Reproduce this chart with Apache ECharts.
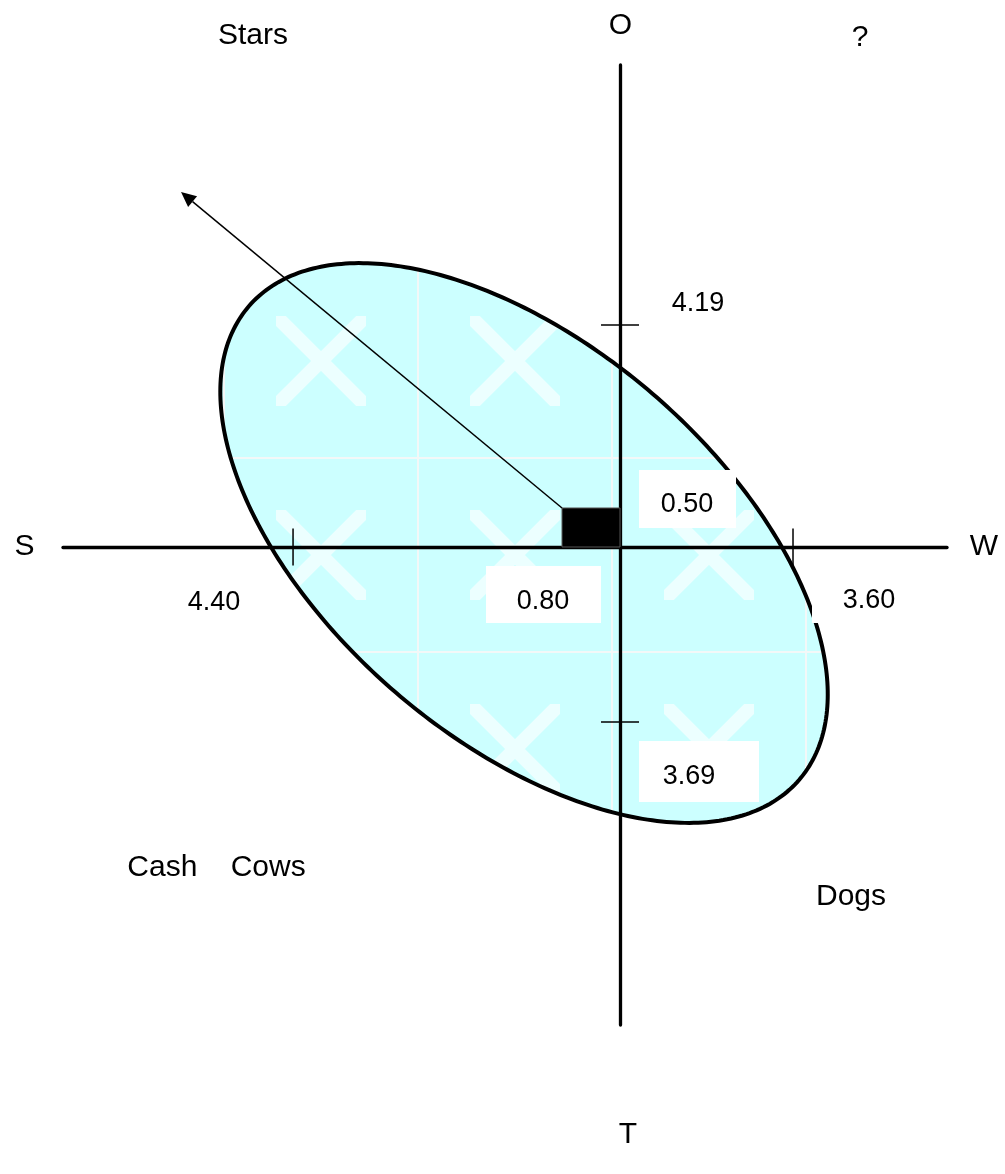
<!DOCTYPE html>
<html>
<head>
<meta charset="utf-8">
<script src="https://cdn.jsdelivr.net/npm/echarts@6/dist/echarts.min.js"></script>
<style>
html,body{margin:0;padding:0;background:#fff;}
#chart{width:1005px;height:1174px;}
</style>
</head>
<body>
<div id="chart"></div>
<script>
// ---------------- data ----------------
const factorNames = ['S', 'W', 'O', 'T'];
const factorScores = [4.40, 3.60, 4.19, 3.69];
// where each factor's tick mark sits along its half-axis (diagram units, schematic, not to scale)
const factorTickAt = [-4.51, 2.386, 2.846, -2.244];
const quadrantNames = ['Stars', '?', 'Cash    Cows', 'Dogs'];
// net strategic position: x = W - S, y = O - T
const netX = factorScores[1] - factorScores[0];
const netY = factorScores[2] - factorScores[3];
// strategy direction arrow tip
const arrowTip = [-6.055, 4.551];
// confidence ellipse: centre and two conjugate half-axes (diagram units)
const ellipseCenter = [-1.324, 0.051];
const ellipseAxisA = [3.796, -3.035];
const ellipseAxisB = [1.772, 1.914];

// ---------------- styling helpers ----------------
const FONT = '"Liberation Sans", Arial, Helvetica, sans-serif';

function makeTile() {
  const s = 194;
  const c = document.createElement('canvas');
  c.width = s; c.height = s;
  const g = c.getContext('2d');
  g.fillStyle = '#CCFFFF';
  g.fillRect(0, 0, s, s);
  g.fillStyle = '#F3F8F8';
  g.fillRect(0, 0, s, 2);
  g.fillRect(0, 0, 2, s);
  const cx = 98, cy = 98, r = 45;
  g.save();
  g.beginPath();
  g.rect(cx - r, cy - r, 2 * r, 2 * r);
  g.clip();
  g.strokeStyle = 'rgba(255,255,255,0.62)';
  g.lineWidth = 14;
  g.lineCap = 'butt';
  g.beginPath();
  g.moveTo(cx - r - 12, cy - r - 12); g.lineTo(cx + r + 12, cy + r + 12);
  g.moveTo(cx + r + 12, cy - r - 12); g.lineTo(cx - r - 12, cy + r + 12);
  g.stroke();
  g.restore();
  return c;
}
const tile = makeTile();

function txt(text, x, y, size) {
  return {
    type: 'text', x: x, y: y, z: 21, silent: true,
    style: {
      text: text, fontSize: size, fontFamily: FONT, fill: '#000',
      align: 'center', verticalAlign: 'middle',
      textAlign: 'center', textVerticalAlign: 'middle'
    }
  };
}
function box(x, y, w, h) {
  return { type: 'rect', z: 20, silent: true, shape: { x: x, y: y, width: w, height: h }, style: { fill: '#fff' } };
}

const tickData = [
  [factorTickAt[0], 0, 1],
  [factorTickAt[1], 0, 1],
  [0, factorTickAt[2], 0],
  [0, factorTickAt[3], 0]
];

const chart = echarts.init(document.getElementById('chart'), null, { renderer: 'canvas' });

const option = {
  backgroundColor: '#fff',
  animation: false,
  grid: { left: 63, right: 58, top: 65, bottom: 149, containLabel: false },
  xAxis: {
    type: 'value', min: -7.683, max: 4.510, z: 3,
    axisLine: { show: true, onZero: true, lineStyle: { color: '#000', width: 3.3 } },
    axisTick: { show: false }, axisLabel: { show: false }, splitLine: { show: false }
  },
  yAxis: {
    type: 'value', min: -6.128, max: 6.179, z: 3,
    axisLine: { show: true, onZero: true, lineStyle: { color: '#000', width: 3.3 } },
    axisTick: { show: false }, axisLabel: { show: false }, splitLine: { show: false }
  },
  series: [
    {
      type: 'custom', name: 'ellipse', z: 1, silent: true,
      data: [[ellipseCenter[0], ellipseCenter[1], ellipseAxisA[0], ellipseAxisA[1], ellipseAxisB[0], ellipseAxisB[1]]],
      renderItem: function (params, api) {
        const cx = api.value(0), cy = api.value(1);
        const c = api.coord([cx, cy]);
        const pa = api.coord([cx + api.value(2), cy + api.value(3)]);
        const pb = api.coord([cx + api.value(4), cy + api.value(5)]);
        const A = [pa[0] - c[0], pa[1] - c[1]];
        const B = [pb[0] - c[0], pb[1] - c[1]];
        const pts = [];
        const n = 360;
        for (let i = 0; i < n; i++) {
          const t = i / n * Math.PI * 2;
          pts.push([c[0] + Math.cos(t) * A[0] + Math.sin(t) * B[0], c[1] + Math.cos(t) * A[1] + Math.sin(t) * B[1]]);
        }
        return {
          type: 'polygon', shape: { points: pts },
          style: { fill: { image: tile, repeat: 'repeat', x: 29, y: 69 }, stroke: '#000', lineWidth: 4 }
        };
      }
    },
    {
      type: 'custom', name: 'ticks', z: 4, silent: true,
      data: tickData,
      renderItem: function (params, api) {
        const p = api.coord([api.value(0), api.value(1)]);
        const vert = api.value(2) === 1;
        const shape = vert
          ? { x1: p[0], y1: p[1] - 18.5, x2: p[0], y2: p[1] + 18.5 }
          : { x1: p[0] - 19, y1: p[1], x2: p[0] + 19, y2: p[1] };
        return { type: 'line', shape: shape, style: { stroke: '#000', lineWidth: 1.5 } };
      }
    },
    {
      type: 'custom', name: 'net position', z: 5, silent: true,
      data: [[netX, netY]],
      renderItem: function (params, api) {
        const p0 = api.coord([0, 0]);
        const p1 = api.coord([api.value(0), api.value(1)]);
        return {
          type: 'rect',
          shape: { x: Math.min(p0[0], p1[0]), y: Math.min(p0[1], p1[1]), width: Math.abs(p1[0] - p0[0]), height: Math.abs(p1[1] - p0[1]) },
          style: { fill: '#000', stroke: '#555', lineWidth: 1 }
        };
      }
    },
    {
      type: 'custom', name: 'arrow', z: 6, silent: true,
      data: [[netX, netY, arrowTip[0], arrowTip[1]]],
      renderItem: function (params, api) {
        const s = api.coord([api.value(0), api.value(1)]);
        const e = api.coord([api.value(2), api.value(3)]);
        const dx = e[0] - s[0], dy = e[1] - s[1];
        const L = Math.sqrt(dx * dx + dy * dy);
        const ux = dx / L, uy = dy / L;
        const hl = 15, hw = 7;
        const bx = e[0] - ux * hl, by = e[1] - uy * hl;
        return {
          type: 'group',
          children: [
            { type: 'line', shape: { x1: s[0], y1: s[1], x2: bx, y2: by }, style: { stroke: '#000', lineWidth: 1.5 } },
            { type: 'polygon', shape: { points: [[e[0], e[1]], [bx - uy * hw, by + ux * hw], [bx + uy * hw, by - ux * hw]] }, style: { fill: '#000' } }
          ]
        };
      }
    }
  ],
  graphic: {
    elements: [
      // axis end letters
      txt(factorNames[0], 24.5, 547, 30),
      txt(factorNames[1], 984, 547, 30),
      txt(factorNames[2], 620.5, 26, 30),
      txt(factorNames[3], 628, 1135, 30),
      // quadrant names
      txt(quadrantNames[0], 253, 36, 30),
      txt(quadrantNames[1], 860, 38, 30),
      txt(quadrantNames[2], 216.5, 868, 30),
      txt(quadrantNames[3], 851, 897, 30),
      // factor score labels
      txt(factorScores[0].toFixed(2), 214, 603, 27),
      box(812, 566, 115, 57),
      txt(factorScores[1].toFixed(2), 869, 601, 27),
      txt(factorScores[2].toFixed(2), 698, 304, 27),
      box(639, 741, 120, 61),
      txt(factorScores[3].toFixed(2), 689, 777, 27),
      // net labels
      box(639, 470, 97, 58),
      txt(Math.abs(netY).toFixed(2), 687, 505, 27),
      box(486, 566, 115, 57),
      txt(Math.abs(netX).toFixed(2), 543, 602, 27)
    ]
  }
};
chart.setOption(option);
</script>
</body>
</html>
